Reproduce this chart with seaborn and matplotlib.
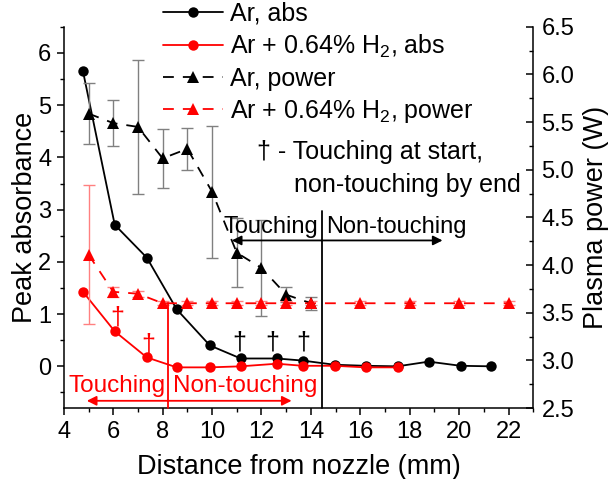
import numpy as np
import pandas as pd
import matplotlib
matplotlib.use("Agg")
import matplotlib.pyplot as plt
import seaborn as sns
from matplotlib.ticker import MultipleLocator, FormatStrFormatter

# ---------------- data ----------------
abs_x_ar = [4.77, 6.06, 7.36, 8.57, 9.91, 11.16, 12.62, 13.67, 14.96, 16.22, 17.51, 18.77, 20.06, 21.31]
abs_ar = [5.66, 2.71, 2.08, 1.09, 0.40, 0.15, 0.15, 0.11, 0.03, 0.01, 0.00, 0.09, 0.01, 0.00]
abs_x_h2 = [4.77, 6.06, 7.36, 8.57, 9.91, 11.16, 12.62, 13.67, 14.96, 16.22, 17.51]
abs_h2 = [1.43, 0.67, 0.17, -0.02, -0.02, 0.00, 0.05, 0.01, 0.01, -0.02, -0.02]

pow_x_ar = [5, 6, 7, 8, 9, 10, 11, 12, 13, 14]
pow_ar = [5.59, 5.49, 5.45, 5.12, 5.22, 4.77, 4.13, 3.97, 3.69, 3.60]
pow_ar_err = [0.32, 0.24, 0.70, 0.31, 0.22, 0.69, 0.36, 0.50, 0.08, 0.07]
pow_x_h2 = [5, 6, 7, 8, 9, 10, 11, 12, 13, 14, 16, 18, 20, 22]
pow_h2 = [4.11, 3.72, 3.70, 3.60, 3.60, 3.60, 3.60, 3.60, 3.60, 3.60, 3.60, 3.60, 3.60, 3.60]
pow_h2_err = [0.73, 0.05, 0.03, 0.02, 0.02, 0.02, 0.02, 0.02, 0.02, 0.02, 0.02, 0.02, 0.02, 0.02]

labels = ["Ar, abs", "Ar + 0.64% H$_2$, abs", "Ar, power", "Ar + 0.64% H$_2$, power"]
x_ticks = [4, 6, 8, 10, 12, 14, 16, 18, 20, 22]
left_ticks = [0, 1, 2, 3, 4, 5, 6]
right_ticks = [2.5, 3.0, 3.5, 4.0, 4.5, 5.0, 5.5, 6.0, 6.5]
dagger_black_x = [11.12, 12.44, 13.68]
dagger_red_x = [6.15, 7.40]

# ---------------- style ----------------
sns.set_style("ticks")
plt.rcParams["font.family"] = ["Liberation Sans", "DejaVu Sans"]
plt.rcParams["mathtext.fontset"] = "custom"
plt.rcParams["mathtext.rm"] = "Liberation Sans"
plt.rcParams["mathtext.it"] = "Liberation Sans:italic"
plt.rcParams["axes.linewidth"] = 1.1
for key in ("text.color", "axes.labelcolor", "xtick.color", "ytick.color", "axes.edgecolor"):
    plt.rcParams[key] = "black"

fig = plt.figure(figsize=(6.08, 4.79), dpi=100)
ax = fig.add_axes([0.105, 0.148, 0.772, 0.796])
ax2 = ax.twinx()

RED = "#ff0000"
dash = (0, (6, 5))

# absorbance (left)
sns.lineplot(x=abs_x_ar, y=abs_ar, ax=ax, color="black", marker="o", markersize=7.5,
             markeredgewidth=0, linewidth=1.3, label=labels[0], legend=False, zorder=4)
h1 = ax.lines[-1]
sns.lineplot(x=abs_x_h2, y=abs_h2, ax=ax, color=RED, marker="o", markersize=7.5,
             markeredgewidth=0, linewidth=1.3, label=labels[1], legend=False, zorder=5)
h2 = ax.lines[-1]

# power (right)
ax2.errorbar(pow_x_ar, pow_ar, yerr=pow_ar_err, fmt="none", ecolor="#808080",
             elinewidth=1.0, capsize=4, capthick=1.0, zorder=2)
ax2.errorbar(pow_x_h2, pow_h2, yerr=pow_h2_err, fmt="none", ecolor="#ff8080",
             elinewidth=1.0, capsize=4, capthick=1.0, zorder=2)
sns.lineplot(x=pow_x_ar, y=pow_ar, ax=ax2, color="black", marker="^", markersize=8.5,
             markeredgewidth=0, linewidth=1.3, linestyle=dash, label=labels[2],
             legend=False, zorder=4)
h3 = ax2.lines[-1]
sns.lineplot(x=pow_x_h2, y=pow_h2, ax=ax2, color=RED, marker="^", markersize=8.5,
             markeredgewidth=0, linewidth=1.3, linestyle=dash, label=labels[3],
             legend=False, zorder=5)
h4 = ax2.lines[-1]

# axes limits & ticks
ax.set_xlim(4, 23)
ax.set_ylim(-0.8, 6.5)
ax2.set_ylim(2.5, 6.5)
ax.set_xticks(x_ticks)
ax.xaxis.set_minor_locator(MultipleLocator(1))
ax.set_yticks(left_ticks)
ax.yaxis.set_minor_locator(MultipleLocator(0.5))
ax2.set_yticks(right_ticks)
ax2.yaxis.set_major_formatter(FormatStrFormatter("%.1f"))
ax2.yaxis.set_minor_locator(MultipleLocator(0.25))

ax.tick_params(axis="both", which="major", direction="out", length=5, width=1.1,
               labelsize=17, colors="black", pad=4)
ax.tick_params(axis="both", which="minor", direction="out", length=3, width=1.0)
ax2.tick_params(axis="y", which="major", direction="in", length=5, width=1.1,
                labelsize=17, pad=6, colors="black")
ax2.tick_params(axis="y", which="minor", direction="in", length=3, width=1.0)

for a in (ax, ax2):
    a.spines["top"].set_visible(False)
    for s in ("left", "right", "bottom"):
        a.spines[s].set_color("black")
ax.spines["right"].set_visible(False)
ax2.spines["left"].set_visible(False)
ax2.spines["bottom"].set_visible(False)

ax.set_xlabel("Distance from nozzle (mm)", fontsize=19.5, labelpad=8)
ax.set_ylabel("Peak absorbance", fontsize=19.5, labelpad=0)
ax2.set_ylabel("Plasma power (W)", fontsize=19.5, labelpad=6)

# ---------------- annotations (in absorbance coords) ----------------
tr = ax.transData
ax2.plot([14.43, 14.43], [2.97, -0.8], color="black", lw=1.3, transform=tr, zorder=6, clip_on=False)
for xe in (10.8, 19.33):
    ax2.annotate("", xy=(xe, 2.41), xytext=(14.43, 2.41), xycoords=tr, textcoords=tr,
                 arrowprops=dict(arrowstyle="-|>", color="black", lw=1.3,
                                 mutation_scale=14, shrinkA=0, shrinkB=0), zorder=6)
ax2.text(14.3, 2.56, "Touching", transform=tr, ha="right", va="baseline", fontsize=17, zorder=7)
ax2.text(14.6, 2.56, "Non-touching", transform=tr, ha="left", va="baseline", fontsize=17, zorder=7)

ax2.plot([8.2, 8.2], [1.22, -0.8], color=RED, lw=1.3, transform=tr, zorder=6, clip_on=False)
for xe in (4.93, 13.22):
    ax2.annotate("", xy=(xe, -0.66), xytext=(8.2, -0.66), xycoords=tr, textcoords=tr,
                 arrowprops=dict(arrowstyle="-|>", color=RED, lw=1.3,
                                 mutation_scale=14, shrinkA=0, shrinkB=0), zorder=6)
ax2.text(8.1, -0.49, "Touching", transform=tr, ha="right", va="baseline", fontsize=17.5,
         color=RED, zorder=7)
ax2.text(8.4, -0.49, "Non-touching", transform=tr, ha="left", va="baseline", fontsize=17.5,
         color=RED, zorder=7)

for xd in dagger_black_x:
    ax2.text(xd, 0.45, "\u2020", transform=tr, ha="center", va="center", fontsize=18,
             color="black", zorder=7)
ax2.text(dagger_red_x[0], 0.93, "\u2020", transform=tr, ha="center", va="center",
         fontsize=18, color=RED, zorder=7)
ax2.text(dagger_red_x[1], 0.42, "\u2020", transform=tr, ha="center", va="center",
         fontsize=18, color=RED, zorder=7)

ax2.text(11.8, 4.11, "\u2020 - Touching at start,", transform=tr, ha="left", va="center",
         fontsize=18, zorder=7)
ax2.text(13.3, 3.48, "non-touching by end", transform=tr, ha="left", va="center",
         fontsize=18, zorder=7)

# legend
leg = ax2.legend(handles=[h1, h2, h3, h4], labels=labels, loc="upper left",
                 bbox_to_anchor=(163 / 608, 1 - 2 / 479), bbox_transform=fig.transFigure,
                 frameon=False, fontsize=18, handlelength=2.4, handletextpad=0.3,
                 labelspacing=0.28, borderpad=0, borderaxespad=0)
leg.set_zorder(10)
for t in leg.get_texts():
    t.set_color("black")

fig.savefig("out.png", dpi=100)
